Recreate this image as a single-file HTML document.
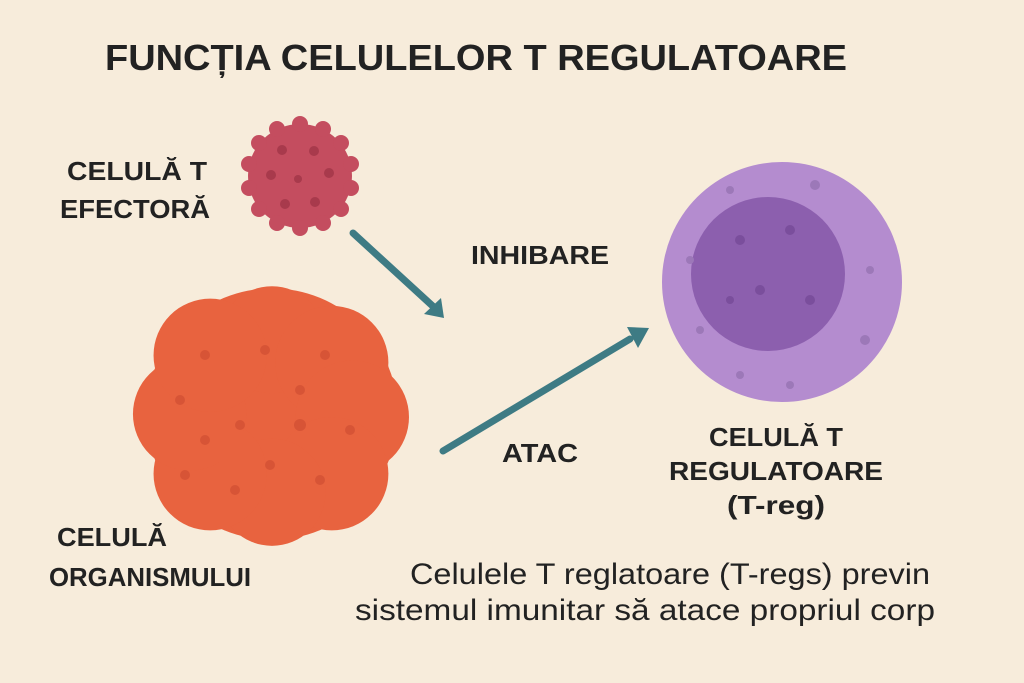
<!DOCTYPE html>
<html><head><meta charset="utf-8"><style>
html,body{margin:0;padding:0;background:#f7ecdb;}
svg{display:block}
.b{font-family:"Liberation Sans",sans-serif;font-weight:bold;fill:#222;}
.n{font-family:"Liberation Sans",sans-serif;fill:#222;}
</style></head><body>
<svg width="1024" height="683" viewBox="0 0 1024 683">
<rect width="1024" height="683" fill="#f7ecdb"/>
<text class="b" x="476" y="70" font-size="36" text-anchor="middle" textLength="742" lengthAdjust="spacingAndGlyphs">FUNCȚIA CELULELOR T REGULATOARE</text>
<g fill="#c44d5f">
<circle cx="300" cy="176" r="52"/>
<circle cx="300" cy="124" r="8"/><circle cx="323" cy="129" r="8"/><circle cx="341" cy="143" r="8"/><circle cx="351" cy="164" r="8"/><circle cx="351" cy="188" r="8"/><circle cx="341" cy="209" r="8"/><circle cx="323" cy="223" r="8"/><circle cx="300" cy="228" r="8"/><circle cx="277" cy="223" r="8"/><circle cx="259" cy="209" r="8"/><circle cx="249" cy="188" r="8"/><circle cx="249" cy="164" r="8"/><circle cx="259" cy="143" r="8"/><circle cx="277" cy="129" r="8"/>
</g>
<g fill="#a83a4c"><circle cx="282" cy="150" r="5"/><circle cx="314" cy="151" r="5"/><circle cx="271" cy="175" r="5"/><circle cx="298" cy="179" r="4"/><circle cx="329" cy="173" r="5"/><circle cx="285" cy="204" r="5"/><circle cx="315" cy="202" r="5"/></g>
<g fill="#e8633f" transform="translate(272,414) scale(1.03) translate(-272,-402)">
<circle cx="272" cy="402" r="122"/>
<circle cx="272" cy="330" r="52"/><circle cx="330" cy="352" r="55"/><circle cx="350" cy="405" r="55"/><circle cx="330" cy="460" r="55"/><circle cx="272" cy="478" r="52"/><circle cx="212" cy="460" r="55"/><circle cx="192" cy="402" r="55"/><circle cx="212" cy="345" r="55"/>
</g>
<g fill="#d04f33" opacity="0.7" transform="translate(0,10)"><circle cx="205" cy="345" r="5"/><circle cx="265" cy="340" r="5"/><circle cx="325" cy="345" r="5"/><circle cx="300" cy="380" r="5"/><circle cx="180" cy="390" r="5"/><circle cx="240" cy="415" r="5"/><circle cx="300" cy="415" r="6"/><circle cx="350" cy="420" r="5"/><circle cx="205" cy="430" r="5"/><circle cx="185" cy="465" r="5"/><circle cx="235" cy="480" r="5"/><circle cx="320" cy="470" r="5"/><circle cx="270" cy="455" r="5"/></g>
<circle cx="782" cy="282" r="120" fill="#b48ccf"/>
<circle cx="768" cy="274" r="77" fill="#8c5fae"/>
<g fill="#9c78b8"><circle cx="730" cy="190" r="4"/><circle cx="815" cy="185" r="5"/><circle cx="690" cy="260" r="4"/><circle cx="870" cy="270" r="4"/><circle cx="700" cy="330" r="4"/><circle cx="865" cy="340" r="5"/><circle cx="790" cy="385" r="4"/><circle cx="740" cy="375" r="4"/></g>
<g fill="#7a4e9c"><circle cx="740" cy="240" r="5"/><circle cx="790" cy="230" r="5"/><circle cx="760" cy="290" r="5"/><circle cx="810" cy="300" r="5"/><circle cx="730" cy="300" r="4"/></g>
<g stroke="#3e7b84" stroke-width="7" stroke-linecap="round" fill="none">
<line x1="353" y1="233" x2="437" y2="310"/>
<line x1="443" y1="451" x2="630" y2="339"/>
</g>
<g fill="#3e7b84">
<polygon points="444,318 424,314 441,298"/>
<polygon points="649,328 627,327 638,348"/>
</g>
<g class="b" font-size="26">
<text x="137" y="180" text-anchor="middle" textLength="140" lengthAdjust="spacingAndGlyphs">CELULĂ T</text>
<text x="135" y="218" text-anchor="middle" textLength="150" lengthAdjust="spacingAndGlyphs">EFECTORĂ</text>
<text x="540" y="264" text-anchor="middle" textLength="138" lengthAdjust="spacingAndGlyphs">INHIBARE</text>
<text x="540" y="462" text-anchor="middle" textLength="76" lengthAdjust="spacingAndGlyphs">ATAC</text>
<text x="776" y="446" text-anchor="middle" textLength="134" lengthAdjust="spacingAndGlyphs">CELULĂ T</text>
<text x="776" y="480" text-anchor="middle" textLength="214" lengthAdjust="spacingAndGlyphs">REGULATOARE</text>
<text x="776" y="514" text-anchor="middle" textLength="98" lengthAdjust="spacingAndGlyphs">(T-reg)</text>
<text x="112" y="546" text-anchor="middle" textLength="110" lengthAdjust="spacingAndGlyphs">CELULĂ</text>
<text x="150" y="586" text-anchor="middle" textLength="202" lengthAdjust="spacingAndGlyphs">ORGANISMULUI</text>
</g>
<g class="n" font-size="30">
<text x="670" y="584" text-anchor="middle" textLength="520" lengthAdjust="spacingAndGlyphs">Celulele T reglatoare (T-regs) previn</text>
<text x="645" y="620" text-anchor="middle" textLength="580" lengthAdjust="spacingAndGlyphs">sistemul imunitar să atace propriul corp</text>
</g>
</svg>
</body></html>
